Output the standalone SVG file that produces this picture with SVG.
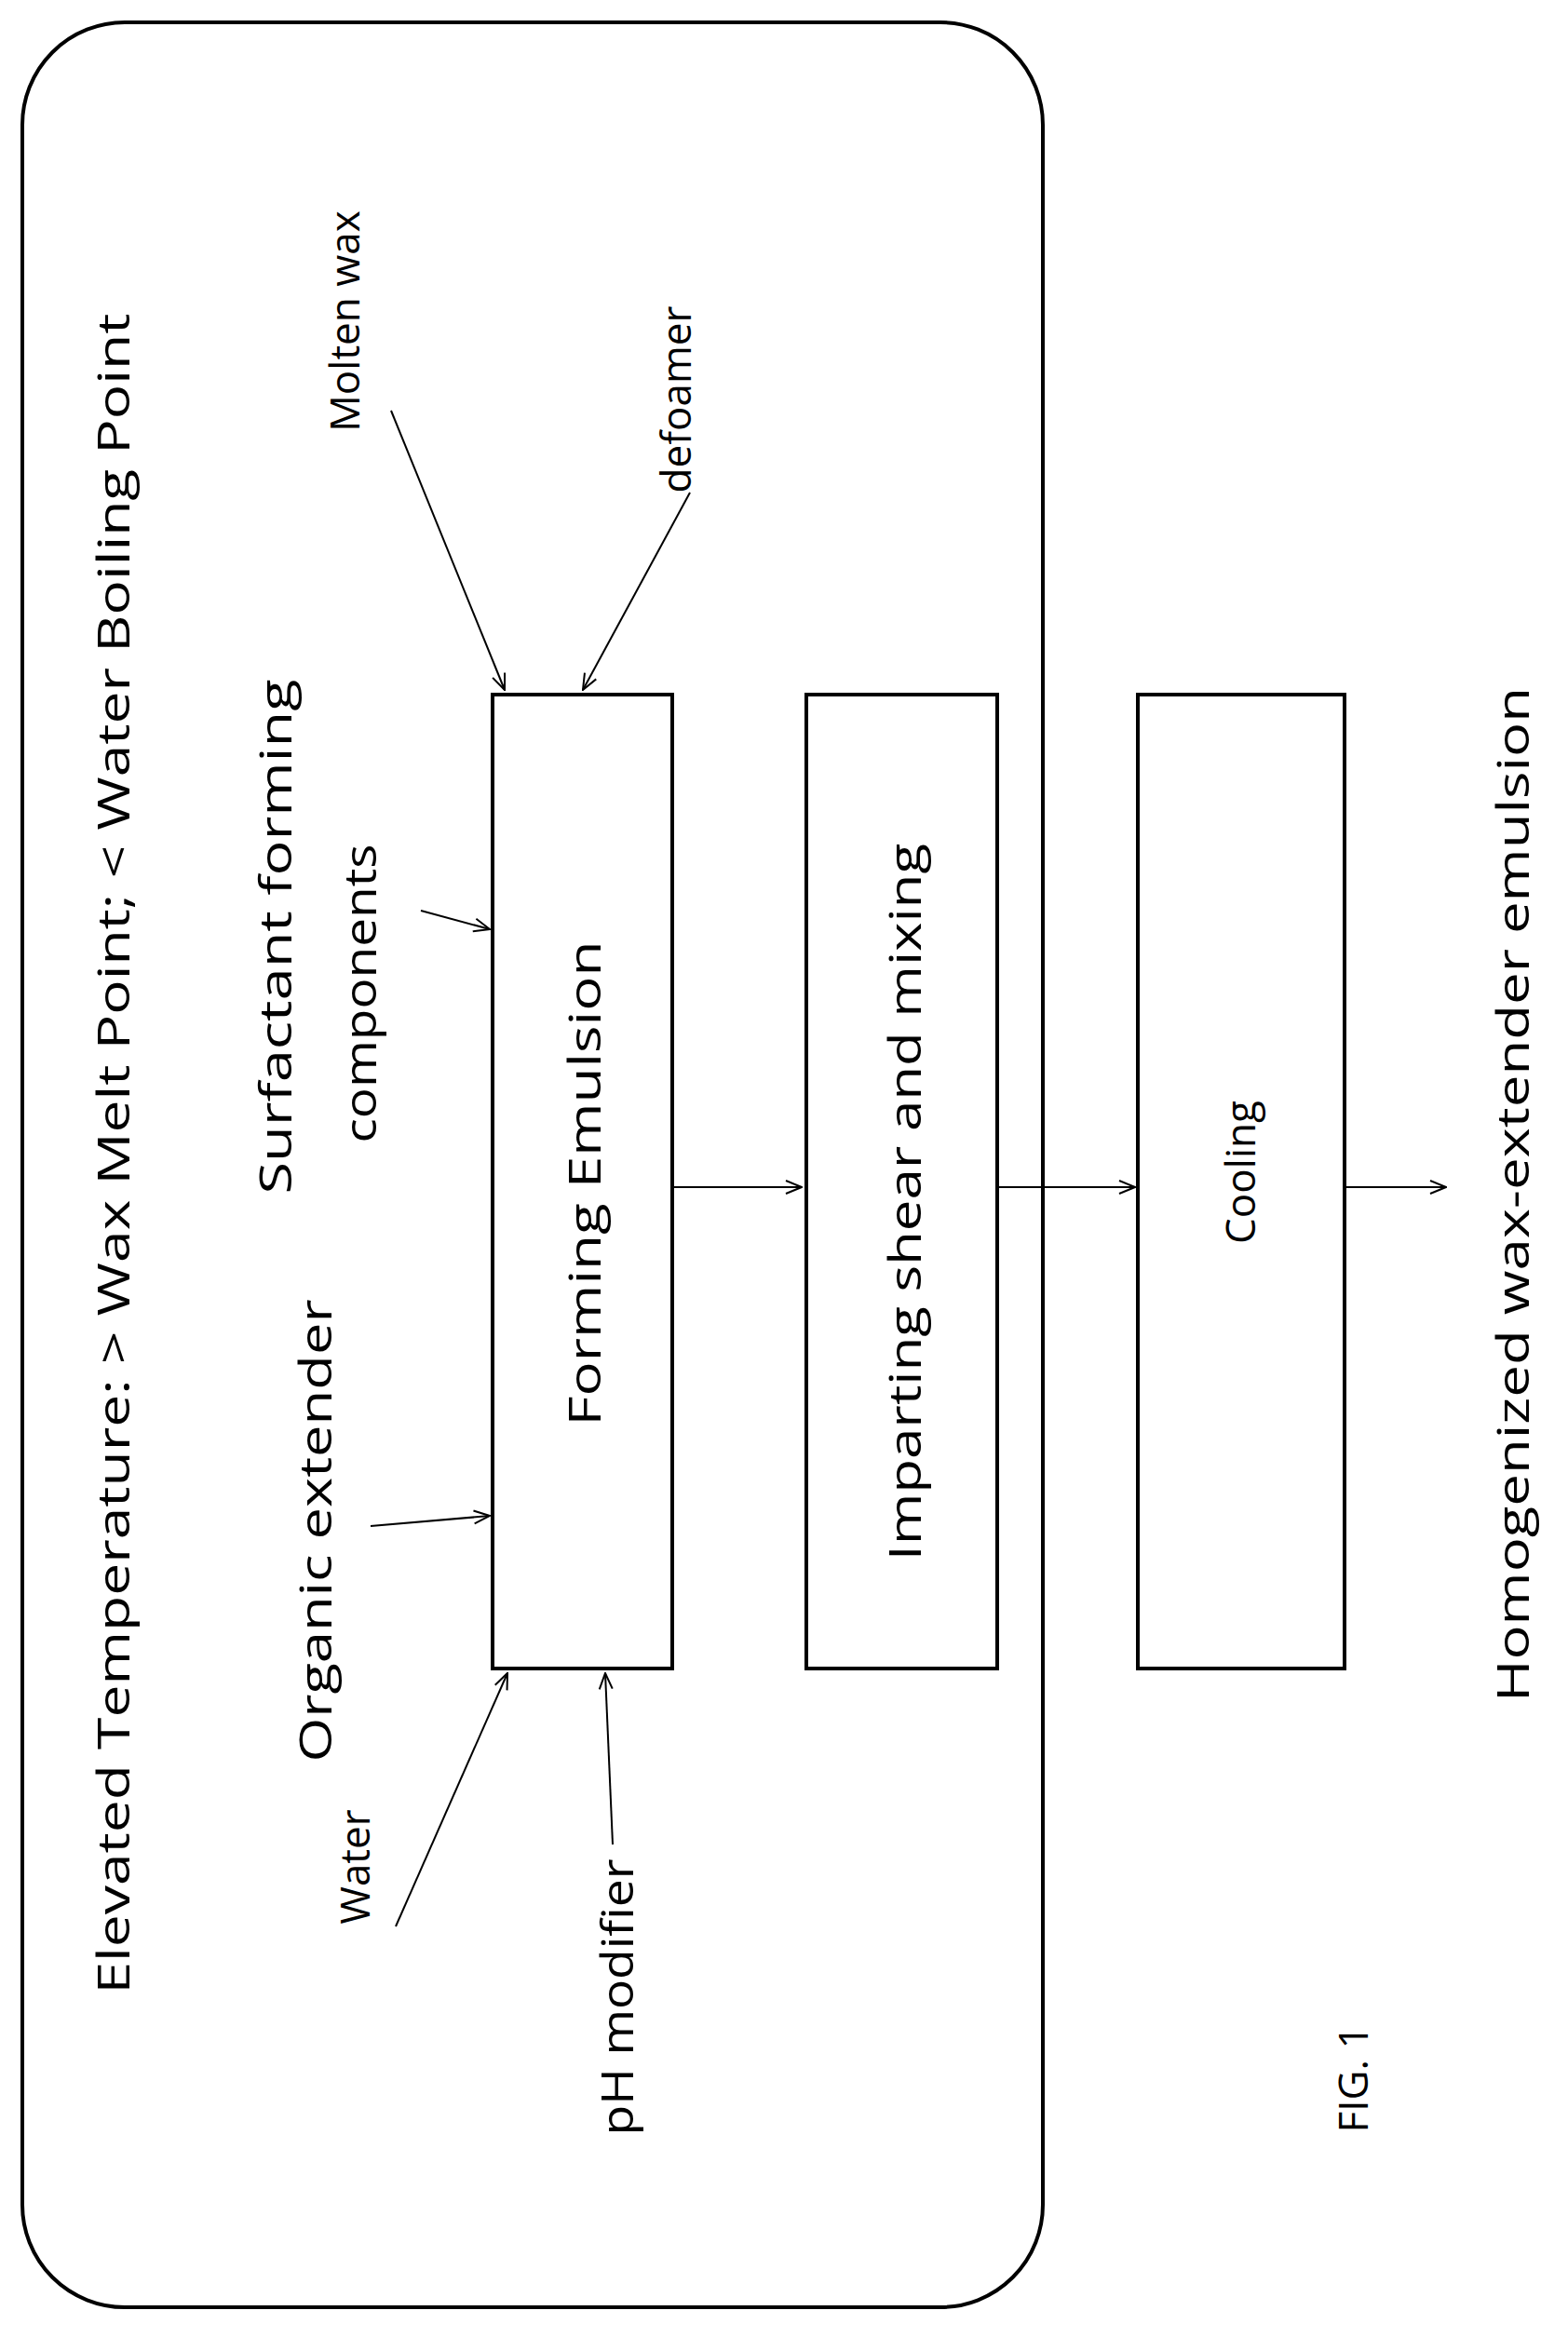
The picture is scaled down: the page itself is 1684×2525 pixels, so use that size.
<svg xmlns="http://www.w3.org/2000/svg" width="1684" height="2525" viewBox="0 0 1684 2525">
<style>
.t{font-family:"Open Sans","Liberation Sans",sans-serif;font-size:48px;fill:#000;text-anchor:middle;dominant-baseline:central}
.s{font-size:44px}
.b{fill:#fff;stroke:#000;stroke-width:4}
.c{stroke:#000;stroke-width:2;fill:none;marker-end:url(#a)}
</style>
<defs><marker id="a" viewBox="0 0 20 20" refX="19" refY="10" markerWidth="20" markerHeight="20" markerUnits="userSpaceOnUse" orient="auto"><path d="M2,3 L19,10 L2,17" fill="none" stroke="#000" stroke-width="2"/></marker></defs>
<rect width="1684" height="2525" fill="#fff"/>
<g id="frame"><rect x="24" y="24" width="1096" height="2454" rx="110" fill="none" stroke="#000" stroke-width="4"/>
<text class="t" transform="translate(120,1239) rotate(-90)" textLength="1805" lengthAdjust="spacingAndGlyphs">Elevated Temperature: &gt; Wax Melt Point; &lt; Water Boiling Point</text></g>
<g id="forming"><rect class="b" x="529" y="746" width="193" height="1046"/><text class="t" transform="translate(626,1271) rotate(-90)" textLength="521" lengthAdjust="spacingAndGlyphs">Forming Emulsion</text></g>
<g id="shear"><rect class="b" x="866" y="746" width="205" height="1046"/><text class="t" transform="translate(970,1291) rotate(-90)" textLength="770" lengthAdjust="spacingAndGlyphs">Imparting shear and mixing</text></g>
<g id="cooling"><rect class="b" x="1222" y="746" width="222" height="1046"/><text class="t s" transform="translate(1331,1259) rotate(-90)">Cooling</text></g>
<g id="labels">
<text class="t s" transform="translate(369,345) rotate(-90)">Molten wax</text>
<text class="t s" transform="translate(725,429) rotate(-90)">defoamer</text>
<text class="t" transform="translate(294,1006) rotate(-90)" textLength="553" lengthAdjust="spacingAndGlyphs">Surfactant forming</text>
<text class="t" transform="translate(385,1067) rotate(-90)" textLength="321" lengthAdjust="spacingAndGlyphs">components</text>
<text class="t" transform="translate(337,1644) rotate(-90)" textLength="497" lengthAdjust="spacingAndGlyphs">Organic extender</text>
<text class="t s" transform="translate(380,2005) rotate(-90)">Water</text>
<text class="t" transform="translate(661,2145) rotate(-90)" textLength="297" lengthAdjust="spacingAndGlyphs">pH modifier</text>
<text class="t" transform="translate(1623,1283) rotate(-90)" textLength="1090" lengthAdjust="spacingAndGlyphs">Homogenized wax-extender emulsion</text>
<text class="t s" transform="translate(1452,2233) rotate(-90)">FIG. 1</text>
</g>
<g id="connectors">
<line class="c" x1="420" y1="441" x2="542" y2="741"/>
<line class="c" x1="741" y1="529" x2="626" y2="741"/>
<line class="c" x1="452" y1="978" x2="526" y2="998"/>
<line class="c" x1="398" y1="1639" x2="526" y2="1628"/>
<line class="c" x1="425" y1="2069" x2="545" y2="1797"/>
<line class="c" x1="658" y1="1981" x2="650" y2="1797"/>
<line class="c" x1="722" y1="1275" x2="861" y2="1275"/>
<line class="c" x1="1071" y1="1275" x2="1219" y2="1275"/>
<line class="c" x1="1444" y1="1275" x2="1553" y2="1275"/>
</g>
</svg>
